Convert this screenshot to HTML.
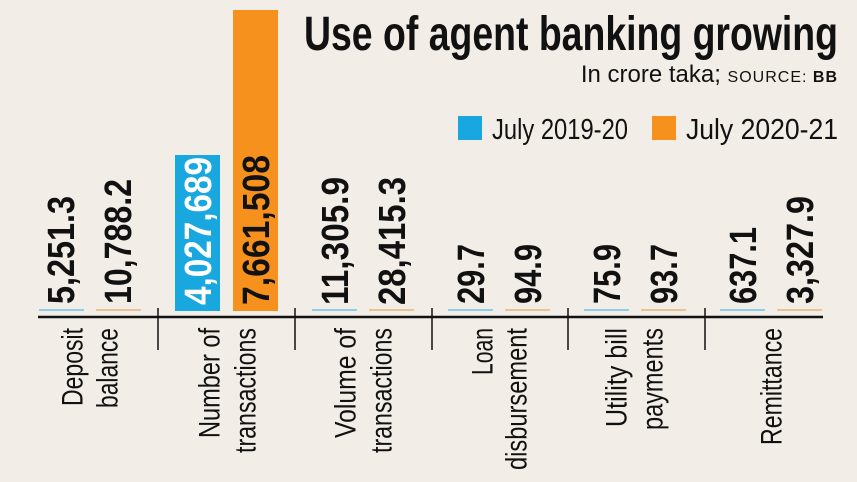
<!DOCTYPE html>
<html><head><meta charset="utf-8"><style>
html,body{margin:0;padding:0;background:#f2eee7;}
svg{display:block;}
text{font-family:"Liberation Sans",sans-serif;}
</style></head><body>
<svg width="857" height="482" viewBox="0 0 857 482">
<rect width="857" height="482" fill="#f2eee7"/>
<!-- title -->
<text x="838" y="50" text-anchor="end" font-size="48" font-weight="bold" textLength="534" lengthAdjust="spacingAndGlyphs" fill="#111">Use of agent banking growing</text>
<text x="838" y="82" text-anchor="end" font-size="24" fill="#111"><tspan>In crore taka; </tspan><tspan font-size="16" letter-spacing="1">SOURCE: </tspan><tspan font-size="16" font-weight="bold" letter-spacing="1">BB</tspan></text>
<rect x="458" y="116" width="24" height="24" fill="#19a7e0"/>
<text x="492" y="139" font-size="29" textLength="136" lengthAdjust="spacingAndGlyphs" fill="#111">July 2019-20</text>
<rect x="652" y="116" width="24" height="24" fill="#f7911e"/>
<text x="686" y="139" font-size="29" textLength="152" lengthAdjust="spacingAndGlyphs" fill="#111">July 2020-21</text>
<!-- bars -->
<rect x="175" y="155" width="45" height="156" fill="#19a7e0"/>
<rect x="233" y="10" width="45" height="301" fill="#f7911e"/>
<g stroke-width="1.5">
<line x1="39" y1="310" x2="84" y2="310" stroke="#6ec3e3"/>
<line x1="96" y1="310" x2="141" y2="310" stroke="#eab37a"/>
<line x1="312" y1="310" x2="357" y2="310" stroke="#6ec3e3"/>
<line x1="369" y1="310" x2="414" y2="310" stroke="#eab37a"/>
<line x1="448" y1="310" x2="493" y2="310" stroke="#6ec3e3"/>
<line x1="505" y1="310" x2="550" y2="310" stroke="#eab37a"/>
<line x1="584" y1="310" x2="629" y2="310" stroke="#6ec3e3"/>
<line x1="641" y1="310" x2="686" y2="310" stroke="#eab37a"/>
<line x1="720" y1="310" x2="765" y2="310" stroke="#6ec3e3"/>
<line x1="777" y1="310" x2="822" y2="310" stroke="#eab37a"/>
</g>
<!-- axis -->
<line x1="38" y1="317" x2="823" y2="317" stroke="#111" stroke-width="2.5"/>
<g stroke="#111" stroke-width="1.5">
<line x1="158" y1="308" x2="158" y2="350"/>
<line x1="295" y1="308" x2="295" y2="350"/>
<line x1="432" y1="308" x2="432" y2="350"/>
<line x1="568" y1="308" x2="568" y2="350"/>
<line x1="705" y1="308" x2="705" y2="350"/>
</g>
<!-- values -->
<g font-size="38" font-weight="bold" fill="#111">
<text transform="translate(62,304) rotate(-90)" dominant-baseline="central" textLength="108" lengthAdjust="spacingAndGlyphs">5,251.3</text>
<text transform="translate(119,304) rotate(-90)" dominant-baseline="central" textLength="125" lengthAdjust="spacingAndGlyphs">10,788.2</text>
<text transform="translate(199,305) rotate(-90)" dominant-baseline="central" textLength="148" lengthAdjust="spacingAndGlyphs" fill="#fff">4,027,689</text>
<text transform="translate(257,305) rotate(-90)" dominant-baseline="central" textLength="150" lengthAdjust="spacingAndGlyphs">7,661,508</text>
<text transform="translate(336,305) rotate(-90)" dominant-baseline="central" textLength="128" lengthAdjust="spacingAndGlyphs">11,305.9</text>
<text transform="translate(393,305) rotate(-90)" dominant-baseline="central" textLength="128" lengthAdjust="spacingAndGlyphs">28,415.3</text>
<text transform="translate(472,304) rotate(-90)" dominant-baseline="central" textLength="60" lengthAdjust="spacingAndGlyphs">29.7</text>
<text transform="translate(529,304) rotate(-90)" dominant-baseline="central" textLength="60" lengthAdjust="spacingAndGlyphs">94.9</text>
<text transform="translate(608,304) rotate(-90)" dominant-baseline="central" textLength="60" lengthAdjust="spacingAndGlyphs">75.9</text>
<text transform="translate(665,304) rotate(-90)" dominant-baseline="central" textLength="60" lengthAdjust="spacingAndGlyphs">93.7</text>
<text transform="translate(744,304) rotate(-90)" dominant-baseline="central" textLength="77" lengthAdjust="spacingAndGlyphs">637.1</text>
<text transform="translate(801,304) rotate(-90)" dominant-baseline="central" textLength="108" lengthAdjust="spacingAndGlyphs">3,327.9</text>
</g>
<!-- categories -->
<g font-size="30" fill="#111" text-anchor="end">
<text transform="translate(73,328) rotate(-90)" dominant-baseline="central" textLength="78" lengthAdjust="spacingAndGlyphs">Deposit</text>
<text transform="translate(108,328) rotate(-90)" dominant-baseline="central" textLength="80" lengthAdjust="spacingAndGlyphs">balance</text>
<text transform="translate(210,328) rotate(-90)" dominant-baseline="central" textLength="110" lengthAdjust="spacingAndGlyphs">Number of</text>
<text transform="translate(246,328) rotate(-90)" dominant-baseline="central" textLength="125" lengthAdjust="spacingAndGlyphs">transactions</text>
<text transform="translate(346,328) rotate(-90)" dominant-baseline="central" textLength="110" lengthAdjust="spacingAndGlyphs">Volume of</text>
<text transform="translate(382,328) rotate(-90)" dominant-baseline="central" textLength="125" lengthAdjust="spacingAndGlyphs">transactions</text>
<text transform="translate(483,328) rotate(-90)" dominant-baseline="central" textLength="47" lengthAdjust="spacingAndGlyphs">Loan</text>
<text transform="translate(517,328) rotate(-90)" dominant-baseline="central" textLength="142" lengthAdjust="spacingAndGlyphs">disbursement</text>
<text transform="translate(617,328) rotate(-90)" dominant-baseline="central" textLength="99" lengthAdjust="spacingAndGlyphs">Utility bill</text>
<text transform="translate(653,328) rotate(-90)" dominant-baseline="central" textLength="102" lengthAdjust="spacingAndGlyphs">payments</text>
<text transform="translate(772,328) rotate(-90)" dominant-baseline="central" textLength="117" lengthAdjust="spacingAndGlyphs">Remittance</text>
</g>
</svg>
</body></html>
